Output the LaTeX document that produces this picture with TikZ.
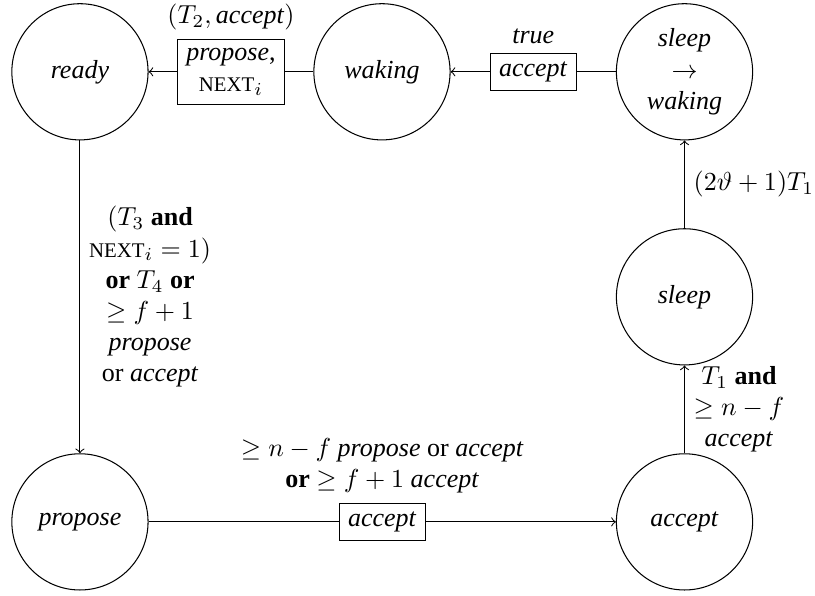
\documentclass[tikz,border=0pt]{standalone}
\usepackage{fontspec}
\setmainfont{Liberation Serif}
\usetikzlibrary{positioning}
\newcommand{\nxt}{\mbox{\footnotesize NEXT}}
\begin{document}
\begin{tikzpicture}[
  state/.style={draw,circle,minimum size=1.84cm,inner sep=0pt,align=center},
  cond/.style={draw,fill=white,align=center}]
\useasboundingbox (0,0) rectangle (11.01,-8.05);

\node (ready) at (1.08,-0.97) [state] {\emph{ready}};
\node (waking) at (5.16,-0.97) [state] {\emph{waking}};
\node (sw) at (9.247,-0.97) [state] {\emph{sleep}\\$\rightarrow$\\\emph{waking}};
\node (sleep) at (9.247,-4.01) [state] {\emph{sleep}};
\node (propose) at (1.08,-7.05) [state] {\emph{propose}};
\node (accept) at (9.247,-7.05) [state] {\emph{accept}};

\draw[->] (waking) -- node[cond] (b1) {\emph{propose},\\\nxt$_i$} (ready);
\node (l1) at (b1.north) [above] {$(T_2,\mbox{\emph{accept}})$};

\draw[->] (sw) -- node[cond] (b2) {\emph{accept}} (waking);
\node (l2) at (b2.north) [above] {\emph{true}};

\draw[->] (ready) -- node[right,align=center] (l3)
  {$(T_3$ \textbf{and}\\\nxt$_i=1)$\\\textbf{or} $T_4$ \textbf{or}\\$\geq f+1$\\\emph{propose}\\or \emph{accept}} (propose);

\draw[->] (propose) -- node[cond] (b3) {\emph{accept}} (accept);
\node (l5) at (b3.north) [above,align=center]
  {$\geq n-f$ \emph{propose} or \emph{accept}\\\textbf{or} $\geq f+1$ \emph{accept}};

\draw[->] (accept) -- node[right,align=center] (l6)
  {$T_1$ \textbf{and}\\$\geq n-f$\\\emph{accept}} (sleep);

\draw[->] (sleep) -- node[right] (l4) {$(2\vartheta+1)T_1$} (sw);
\end{tikzpicture}
\end{document}
